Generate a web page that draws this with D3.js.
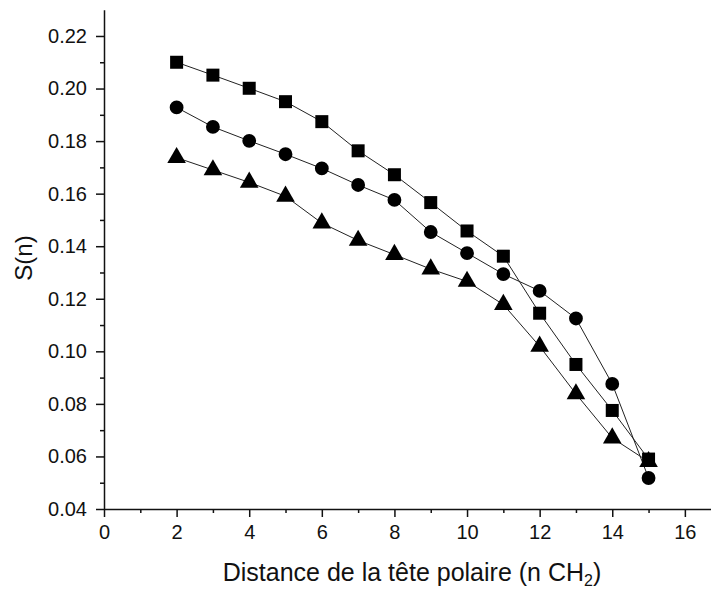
<!DOCTYPE html>
<html>
<head>
<meta charset="utf-8">
<script src="https://cdn.jsdelivr.net/npm/d3@7"></script>
<style>
  body { margin: 0; background: #fff; }
  text { font-family: "Liberation Sans", Arial, sans-serif; fill: #111; }
</style>
</head>
<body>
<div id="chart"></div>
<script>
// data
var positions = [2, 3, 4, 5, 6, 7, 8, 9, 10, 11, 12, 13, 14, 15];
var sCarres  = [0.2100, 0.2051, 0.2001, 0.1950, 0.1874, 0.1763, 0.1672, 0.1566, 0.1458, 0.1362, 0.1145, 0.0950, 0.0775, 0.0590];
var sCercles = [0.1928, 0.1854, 0.1801, 0.1750, 0.1696, 0.1633, 0.1576, 0.1454, 0.1374, 0.1294, 0.1230, 0.1125, 0.0876, 0.0518];
var sTriangles = [0.1737, 0.1690, 0.1643, 0.1590, 0.1488, 0.1422, 0.1368, 0.1313, 0.1266, 0.1178, 0.1019, 0.0838, 0.0670, 0.0580];
var xTicks = [0, 2, 4, 6, 8, 10, 12, 14, 16];
var yTicks = [0.04, 0.06, 0.08, 0.10, 0.12, 0.14, 0.16, 0.18, 0.20, 0.22];

var W = 711, H = 590;
var svg = d3.select("#chart")
    .append("svg")
    .attr("width", W)
    .attr("height", H);

var x = d3.scaleLinear().domain([0, 16.72]).range([104, 711]);
var y = d3.scaleLinear().domain([0.04, 0.23]).range([509, 9.7]);

// axe des x
svg.append("g")
    .attr("transform", "translate(0,509)")
    .call(d3.axisBottom(x).tickValues(xTicks).tickFormat(d3.format("d")).tickSize(8).tickPadding(8).tickSizeOuter(0));
// petites graduations
svg.append("g")
    .attr("transform", "translate(0,509)")
    .call(d3.axisBottom(x).tickValues(d3.range(1, 17, 2)).tickFormat("").tickSize(4).tickSizeOuter(0))
    .select(".domain").remove();

// axe des y
svg.append("g")
    .attr("transform", "translate(104,0)")
    .call(d3.axisLeft(y).tickValues(yTicks).tickFormat(d3.format(".2f")).tickSize(8).tickPadding(9).tickSizeOuter(0));
svg.append("g")
    .attr("transform", "translate(104,0)")
    .call(d3.axisLeft(y).tickValues(d3.range(0.05, 0.23, 0.02)).tickFormat("").tickSize(4).tickSizeOuter(0))
    .select(".domain").remove();

svg.selectAll(".domain").attr("stroke", "#111").attr("stroke-width", 1.5);
svg.selectAll(".tick line").attr("stroke", "#111").attr("stroke-width", 1.5);
svg.selectAll(".tick text").attr("font-size", 20).attr("font-family", "Liberation Sans, Arial, sans-serif").attr("fill", "#111");

// séries
var series = [
  { vals: sCarres, sym: d3.symbolSquare, size: 169 },
  { vals: sCercles, sym: d3.symbolCircle, size: 150 },
  { vals: sTriangles, sym: d3.symbolTriangle, size: 150 }
];

var line = d3.line()
    .x(function(d) { return x(d[0]); })
    .y(function(d) { return y(d[1]); });

series.forEach(function(s) {
  var pts = positions.map(function(p, i) { return [p, s.vals[i]]; });
  svg.append("path")
    .datum(pts)
    .attr("d", line)
    .attr("fill", "none")
    .attr("stroke", "#222")
    .attr("stroke-width", 1);
});

series.forEach(function(s) {
  var pts = positions.map(function(p, i) { return [p, s.vals[i]]; });
  svg.selectAll(null)
    .data(pts)
    .enter()
    .append("path")
    .attr("d", d3.symbol().type(s.sym).size(s.size))
    .attr("transform", function(d) { return "translate(" + x(d[0]) + "," + y(d[1]) + ")"; })
    .attr("fill", "#000");
});

// titres
var xt = svg.append("text")
    .attr("x", 412)
    .attr("y", 581)
    .attr("text-anchor", "middle")
    .attr("font-size", 25);
xt.append("tspan").text("Distance de la tête polaire (n CH");
xt.append("tspan").attr("font-size", 16).attr("dy", 5).text("2");
xt.append("tspan").attr("dy", -5).text(")");

svg.append("text")
    .attr("transform", "translate(32,258) rotate(-90)")
    .attr("text-anchor", "middle")
    .attr("font-size", 24)
    .text("S(n)");
</script>
</body>
</html>
